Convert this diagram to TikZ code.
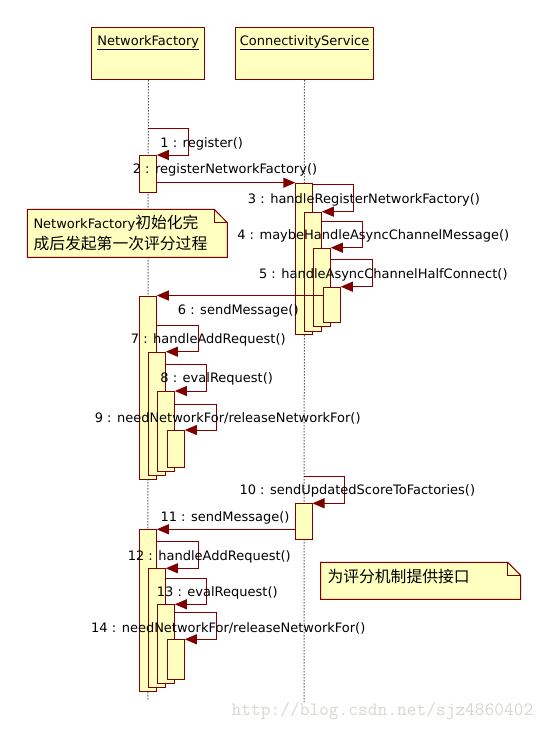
\documentclass[tikz,border=0pt]{standalone}
\usepackage{fontspec}
\setmainfont{DejaVu Sans}
\newfontfamily\cjk{Noto Sans CJK SC}
\usetikzlibrary{arrows.meta}
\definecolor{dred}{RGB}{128,0,0}
\definecolor{ylw}{RGB}{255,255,192}
\definecolor{wmark}{RGB}{216,216,210}
\begin{document}
\begin{tikzpicture}[x=1pt,y=-1pt,
  objbox/.style={draw=dred,fill=ylw,line width=1pt,inner sep=0pt,anchor=north west},
  actbox/.style={draw=dred,fill=ylw,line width=1pt,inner sep=0pt,anchor=north west,minimum width=16.5pt},
  msg/.style={draw=dred,line width=1pt,-{Triangle[length=12pt,width=10pt]}},
  lifeline/.style={draw=black,line width=1pt,dash pattern=on 1pt off 2pt},
  lbl/.style={inner sep=0pt,font=\fontsize{13}{15}\selectfont},
  notebox/.style={draw=dred,fill=ylw,line width=1pt,line join=miter},
  notetext/.style={inner sep=0pt,anchor=west,font=\fontsize{13}{15}\selectfont},
]
\fill[white] (0,0) rectangle (549,731);
\useasboundingbox (0,0) rectangle (549,731);

% objects
\node[objbox,minimum width=113pt,minimum height=52pt] (nf) at (91.3,27.3) {};
\node[objbox,minimum width=137.4pt,minimum height=52pt] (cs) at (235.3,27.3) {};
\node[lbl] (nft) at ([yshift=-15.4pt]nf.north) {\underline{NetworkFactory}};
\node[lbl] (cst) at ([yshift=-15.4pt]cs.north) {\underline{ConnectivityService}};

% lifelines
\coordinate (nfend) at (147.8,700);
\coordinate (csend) at (304,702);
\draw[lifeline] (nf.south) -- (nfend);
\draw[lifeline] (cs.south) -- (csend);

% notes
\draw[notebox] (27.3,209.3) -- (214.3,209.3) -- (227.3,222.7) -- (227.3,257.3) -- (27.3,257.3) -- cycle;
\draw[dred,line width=1pt] (214.3,209.3) -- (214.3,222.7) -- (227.3,222.7);
\node[notetext] (n1a) at (33.3,223.3) {NetworkFactory{\cjk\fontsize{15.8}{17}\selectfont 初始化完}};
\node[notetext] (n1b) at (33.3,243.3) {\cjk\fontsize{15.8}{17}\selectfont 成后发起第一次评分过程};

\draw[notebox] (320.7,562.3) -- (507.7,562.3) -- (520.7,575.3) -- (520.7,599.3) -- (320.7,599.3) -- cycle;
\draw[dred,line width=1pt] (507.7,562.3) -- (507.7,575.3) -- (520.7,575.3);
\node[notetext] (n2) at (327.3,577) {\cjk\fontsize{15.8}{17}\selectfont 为评分机制提供接口};

% activations
\node[actbox,minimum height=36.7pt] (a2) at (139.3,155) {};
\node[actbox,minimum height=151.6pt] (a3) at (295.3,182.7) {};
\node[actbox,minimum height=119pt] (a4) at (304.3,211.7) {};
\node[actbox,minimum height=78.3pt] (a5) at (313.3,247.7) {};
\node[actbox,minimum height=35.6pt] (a6) at (323.3,286.7) {};

\node[actbox,minimum height=183.8pt] (b6) at (139.3,295.5) {};
\node[actbox,minimum height=123.3pt] (b7) at (148.3,351.7) {};
\node[actbox,minimum height=80pt] (b8) at (157.3,391) {};
\node[actbox,minimum height=37.3pt] (b9) at (167.3,430) {};

\node[actbox,minimum height=36pt] (c10) at (295,503.3) {};

\node[actbox,minimum height=161.7pt] (d11) at (139.3,529.3) {};
\node[actbox,minimum height=119pt] (d12) at (148.3,568.3) {};
\node[actbox,minimum height=79pt] (d13) at (157.3,604.3) {};
\node[actbox,minimum height=40pt] (d14) at (167.3,639.3) {};

% messages
\coordinate (m1s) at (148.3,128.3);
\draw[msg] (m1s) -- ++(40,0) |- (a2.north east);
\draw[msg] (a2.east |- a3.north) -- (a3.north west);
\draw[msg] (a3.east |- 0,184.3) -- ++(40.6,0) |- (a4.north east);
\draw[msg] (a4.east |- 0,221.3) -- ++(40.3,0) |- (a5.north east);
\draw[msg] (a5.east |- 0,259.3) -- ++(41.3,0) |- (a6.north east);
\draw[msg] (a6.west |- b6.north) -- (b6.north east);
\draw[msg] (b6.east |- 0,325) -- ++(41.4,0) |- (b7.north east);
\draw[msg] (b7.east |- 0,364.3) -- ++(40.3,0) |- (b8.north east);
\draw[msg] (b8.east |- 0,404.3) -- ++(41.3,0) |- (b9.north east);
\coordinate (m10s) at (304.3,476);
\draw[msg] (m10s) -- ++(40,0) |- (c10.north east);
\draw[msg] (c10.west |- d11.north) -- (d11.north east);
\draw[msg] (d11.east |- 0,541) -- ++(41.4,0) |- (d12.north east);
\draw[msg] (d12.east |- 0,578.3) -- ++(40.3,0) |- (d13.north east);
\draw[msg] (d13.east |- 0,612.7) -- ++(41.3,0) |- (d14.north east);

% labels
\node[lbl] (l1) at (201.7,144) {1 : register()};
\node[lbl] (l2) at (225,170) {2 : registerNetworkFactory()};
\node[lbl] (l3) at (364,200) {3 : handleRegisterNetworkFactory()};
\node[lbl] (l4) at (373.3,235.7) {4 : maybeHandleAsyncChannelMessage()};
\node[lbl] (l5) at (383.3,275) {5 : handleAsyncChannelHalfConnect()};
\node[lbl] (l6) at (238.3,311) {6 : sendMessage()};
\node[lbl] (l7) at (208.3,340) {7 : handleAddRequest()};
\node[lbl] (l8) at (216.7,379) {8 : evalRequest()};
\node[lbl] (l9) at (227.7,418.3) {9 : needNetworkFor/releaseNetworkFor()};
\node[lbl] (l10) at (357.3,491) {10 : sendUpdatedScoreToFactories()};
\node[lbl] (l11) at (225,518.3) {11 : sendMessage()};
\node[lbl] (l12) at (209.3,557.3) {12 : handleAddRequest()};
\node[lbl] (l13) at (217.3,593.3) {13 : evalRequest()};
\node[lbl] (l14) at (228.3,628.3) {14 : needNetworkFor/releaseNetworkFor()};

% watermark
\node[inner sep=0pt,text=wmark,font=\ttfamily\fontsize{18.9}{20}\selectfont] (wm) at (382.5,710.7) {http://blog.csdn.net/sjz4860402};
\end{tikzpicture}
\end{document}
